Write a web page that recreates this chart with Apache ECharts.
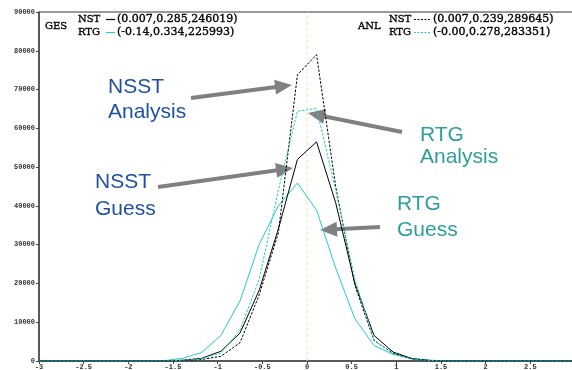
<!DOCTYPE html>
<html>
<head>
<meta charset="utf-8">
<script src="https://cdn.jsdelivr.net/npm/echarts@6.0.0/dist/echarts.min.js"></script>
<style>
  html, body { margin: 0; padding: 0; background: #fff; }
  #chart { width: 572px; height: 370px; }
</style>
</head>
<body>
<div id="chart"></div>
<script>
// Bin centres of the SST increment histogram (end points at -3 and 3)
const binCentres = [-3, -2.893, -2.679, -2.464, -2.25, -2.036, -1.821, -1.607, -1.393, -1.179,
  -0.964, -0.75, -0.536, -0.321, -0.107, 0.107, 0.321, 0.536, 0.75, 0.964,
  1.179, 1.393, 1.607, 1.821, 2.036, 2.25, 2.464, 2.679, 2.893, 3];

// Counts per bin
const nstGuess = [0, 0, 0, 0, 0, 0, 0, 0, 200, 700,
  2500, 7200, 18200, 34000, 52000, 56500, 40800, 20000, 6600, 2300,
  600, 100, 0, 0, 0, 0, 0, 0, 0, 0];
const rtgGuess = [0, 0, 0, 0, 0, 0, 0, 50, 700, 2200,
  6600, 15500, 30000, 40000, 45900, 38900, 24000, 10900, 4000, 1700,
  600, 200, 0, 0, 0, 0, 0, 0, 0, 0];
const nstAnalysis = [0, 0, 0, 0, 0, 0, 0, 0, 100, 400,
  1200, 4700, 17000, 33000, 73800, 79000, 45000, 19500, 5300, 2000,
  500, 50, 0, 0, 0, 0, 0, 0, 0, 0];
const rtgAnalysis = [0, 0, 0, 0, 0, 0, 0, 0, 200, 600,
  2000, 8000, 21000, 44000, 64400, 65100, 44000, 21000, 5500, 1800,
  500, 100, 0, 0, 0, 0, 0, 0, 0, 0];

// Axis ranges and tick steps
const xRange = [-3, 3];
const xStep = 0.5;
const yRange = [0, 90000];
const yStep = 10000;

// Legend rows: name, (mean, std, count)
const gesLegend = [['NST', '(0.007,0.285,246019)'], ['RTG', '(-0.14,0.334,225993)']];
const anlLegend = [['NST', '(0.007,0.239,289645)'], ['RTG', '(-0.00,0.278,283351)']];

const BLACK = '#000000';
const CYAN = '#22cccc';
const BLUE = '#1f51a0';
const TEAL = '#2c9e9b';
const GREY = '#808080';
const ZERO_LINE = '#f4e59e';

const pairs = (ys) => binCentres.map((x, i) => [x, ys[i]]);

const chart = echarts.init(document.getElementById('chart'), null, { renderer: 'canvas' });

const serifFont = 'DejaVu Serif';
const sansFont = 'Liberation Sans';
const legendFont = '11px "' + serifFont + '"';
const nameFont = '10px "' + serifFont + '"';

function legendText(text, x, y, font) {
  return {
    type: 'text', x: x, y: y,
    style: { text: text, fill: '#000', font: font, textVerticalAlign: 'middle', stroke: '#000', lineWidth: 0.35 }
  };
}

function legendBlock(title, titleX, rows, x0, lineX1, lineX2, textX, dashed) {
  const els = [legendText(title, titleX, 26, nameFont)];
  rows.forEach((r, i) => {
    const y = 19.5 + i * 13;
    const col = i === 0 ? BLACK : CYAN;
    els.push(legendText(r[0], x0, y, nameFont));
    els.push({
      type: 'line', shape: { x1: lineX1, y1: y, x2: lineX2, y2: y },
      style: { stroke: col, lineWidth: 1.2, lineDash: dashed ? [2, 1.5] : null }
    });
    els.push(legendText(r[1], textX, y, legendFont));
  });
  return els;
}

function arrow(x1, y1, x2, y2) {
  const dx = x2 - x1, dy = y2 - y1, L = Math.hypot(dx, dy);
  const ux = dx / L, uy = dy / L, px = -uy, py = ux;
  const hl = 17, hw = 7.5;
  const bx = x2 - ux * hl, by = y2 - uy * hl;
  return [
    { type: 'line', shape: { x1: x1, y1: y1, x2: bx + ux, y2: by + uy },
      style: { stroke: GREY, lineWidth: 4 } },
    { type: 'polygon', shape: { points: [[x2, y2], [bx + px * hw, by + py * hw], [bx - px * hw, by - py * hw]] },
      style: { fill: GREY } }
  ];
}

function note(lines, x, ys, color) {
  return lines.map((t, i) => ({
    type: 'text', x: x, y: ys[i],
    style: { text: t, fill: color, font: '21px "' + sansFont + '"', textVerticalAlign: 'middle' }
  }));
}

const graphics = [].concat(
  legendBlock('GES', 45, gesLegend, 78, 106, 115, 117, false),
  legendBlock('ANL', 358, anlLegend, 389, 414, 430, 433, true),
  note(['NSST', 'Analysis'], 108, [86.8, 112.5], BLUE),
  note(['NSST', 'Guess'], 95, [182.5, 209.2], BLUE),
  note(['RTG', 'Analysis'], 420, [135, 157.5], TEAL),
  note(['RTG', 'Guess'], 397, [204.5, 230.5], TEAL),
  arrow(191, 98, 292, 85),
  arrow(402, 132, 308, 113),
  arrow(158, 187, 293, 168),
  arrow(380, 227, 320, 230)
);

const axisLabelStyle = {
  fontFamily: 'Liberation Mono', fontSize: 7, fontWeight: 'bold', color: '#333',
  formatter: (v) => String(v)
};

chart.setOption({
  animation: false,
  backgroundColor: '#fff',
  grid: {
    left: 39, top: 12, width: 536, height: 349,
    outerBoundsMode: 'none', containLabel: false,
    show: true, borderColor: '#333', borderWidth: 1
  },
  xAxis: {
    type: 'value', min: xRange[0], max: xRange[1], interval: xStep,
    axisLine: { onZero: false, lineStyle: { color: '#444', width: 1.5 } },
    axisTick: { show: true, length: 3, lineStyle: { color: '#444' } },
    axisLabel: Object.assign({ margin: 3 }, axisLabelStyle),
    splitLine: { show: false }
  },
  yAxis: {
    type: 'value', min: yRange[0], max: yRange[1], interval: yStep,
    axisLine: { show: true, onZero: false, lineStyle: { color: '#444', width: 1.5 } },
    axisTick: { show: true, length: 3, lineStyle: { color: '#444' } },
    axisLabel: Object.assign({ margin: 4 }, axisLabelStyle),
    splitLine: { show: false }
  },
  series: [
    {
      // dotted reference line at zero increment
      name: 'zero', type: 'line', data: [[0, yRange[0]], [0, yRange[1]]],
      showSymbol: false, symbol: 'none', silent: true,
      lineStyle: { color: ZERO_LINE, width: 1, type: [3, 3] }, z: 1
    },
    {
      name: 'RTG GES', type: 'line', data: pairs(rtgGuess), showSymbol: false, symbol: 'none',
      lineStyle: { color: CYAN, width: 1 }, z: 2
    },
    {
      name: 'NST GES', type: 'line', data: pairs(nstGuess), showSymbol: false, symbol: 'none',
      lineStyle: { color: BLACK, width: 1 }, z: 3
    },
    {
      name: 'NST ANL', type: 'line', data: pairs(nstAnalysis), showSymbol: false, symbol: 'none',
      lineStyle: { color: BLACK, width: 1, type: [2.5, 1.5] }, z: 4
    },
    {
      name: 'RTG ANL', type: 'line', data: pairs(rtgAnalysis), showSymbol: false, symbol: 'none',
      lineStyle: { color: CYAN, width: 1, type: [2.5, 1.5] }, z: 5
    }
  ],
  graphic: { elements: graphics }
});
</script>
</body>
</html>
